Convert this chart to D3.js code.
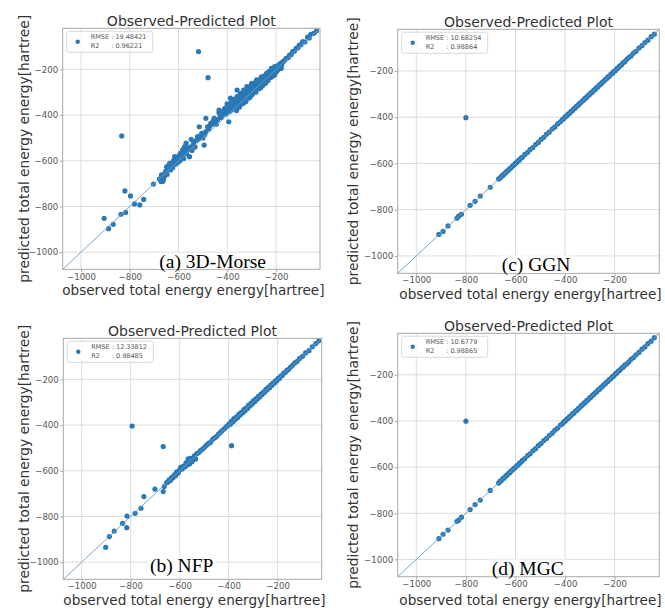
<!DOCTYPE html>
<html><head><meta charset="utf-8">
<script src="https://cdn.jsdelivr.net/npm/d3@7"></script>
<style>body{margin:0;background:#fff} svg{display:block} text{font-family:"DejaVu Sans",sans-serif}</style>
</head><body><svg id="c" width="665" height="608"></svg>
<script>
const tickValues = [-1000,-800,-600,-400,-200];
const axisDomain = [-1075,-20];
const titleText = "Observed-Predicted Plot";
const xLabelText = "observed total energy energy[hartree]";
const yLabelText = "predicted total energy energy[hartree]";
const panelNames = ["(a) 3D-Morse","(c) GGN","(b) NFP","(d) MGC"];
const rmseValues = ["19.48421","10.68254","12.33812","10.6779"];
const r2Values = ["0.96221","0.98864","0.98485","0.98865"];

const morseObs = [-518,-479,-833,-905,-887,-868,-836,-817,-820,-797,-781,-759,-743,-703,
-672,-667,-661,-656,-649,-645,-636,-630,-622,-616,-610,-602,-596,-592,-586,-582,-575,-570,-562,-555,-569,-548,-540,
-522,-515,-505,-495,-488,-481,-468,-488,-454,-445,-434,-425,-414,-434,-401,-394,-405,
-387,-387,-380,-374,-370,-367,-362,-360,-360,-356,-354,-350,-347,-344,-340,-338,-333,-330,-327,-324,-320,-318,-313,-310,-307,-304,-300,-298,-293,-290,-286,-283,-280,-277,-273,-270,-266,-263,-260,-257,-253,-250,-246,-243,-239,-236,-233,-230,-226,-223,-219,-215,-212,-209,-206,-203,-199,-195,-190,-186,-183,-179,-175,
-172,-165,-159,-150,-145,-138,-132,-125,-118,-110,-105,-98,-91,-82,-71,-64,-58,-45,-34,
-395,-392,-385,-383,-378,-376,-372,-368,-365,-363,-358,-352,-349,-346,-342,-336,-335,-331,-328,-325,-322,-316,-315,-311,-308,-305,-302,-297,-295,-291,-288,-284,-281,-278,-275,-271,-268,-264,-261,-258,-255,-251,-248,-244,-241,-237,-234,-231,-228,-225,-221,-217,-214,-210,-207,-204,-200,-197,-193,-188,-184,-181,-177,
-678,-670,-664,-658,-652,-647,-641,-638,-633,-627,-624,-619,-613,-607,-604,-599,-594,-589,-584,-579,-573,-567,-560,-553,-545,-538,-532,-527,
-518,-510,-500,-492,-476,-472,-462,-458,-449,-440,-430,-420,-417,-410,-398];
const morsePred = [-122,-236,-491,-852,-897,-878,-834,-826,-732,-754,-789,-793,-769,-702,
-691,-667,-680,-655,-626,-640,-611,-625,-604,-582,-600,-594,-585,-567,-575,-550,-538,-560,-545,-582,-523,-506,-530,
-494,-451,-480,-531,-472,-451,-436,-414,-414,-440,-389,-410,-378,-378,-351,-429,-395,
-363,-326,-370,-334,-350,-363,-380,-319,-290,-340,-348,-365,-305,-325,-334,-350,-290,-315,-319,-340,-275,-300,-312,-325,-283,-295,-261,-310,-290,-275,-268,-300,-246,-285,-275,-258,-254,-280,-232,-265,-261,-240,-239,-255,-217,-245,-232,-222,-210,-235,-195,-220,-210,-200,-188,-215,-195,-205,-185,-181,-196,-195,-170,
-166,-160,-151,-148,-137,-135,-122,-120,-108,-105,-93,-92,-78,-80,-59,-62,-46,-42,-31,
-372,-385,-345,-378,-355,-340,-365,-330,-345,-372,-330,-318,-355,-335,-312,-325,-300,-345,-305,-290,-330,-290,-320,-300,-275,-318,-285,-270,-300,-265,-290,-255,-280,-262,-250,-285,-245,-268,-250,-238,-270,-250,-228,-262,-235,-225,-250,-212,-238,-222,-205,-232,-200,-215,-225,-198,-210,-185,-200,-192,-175,-188,-180,
-680,-662,-690,-668,-645,-660,-628,-615,-640,-612,-630,-598,-615,-590,-608,-578,-600,-582,-560,-590,-555,-570,-550,-540,-555,-520,-540,-510,
-505,-490,-500,-485,-460,-448,-440,-425,-430,-420,-400,-398,-390,-370,-380];

const nfpObs = [-794,-667,-388,-902,-887,-867,-833,-816,-815,-782,-758,-746,-701,-667,-663,-653,
-648,-643,-638,-633,-628,-622,-617,-612,-606,-600,-596,-590,-585,-579,-574,-570,-565,-560,-555,-550,-545,-540,-535,-530,
-522,-515,-506,-498,-490,-482,-474,-466,-458,-450,-442,-434,-426,-418,-410,
-404,-398,-393,-388,-383,-378,-373,-368,-363,-358,-353,-348,-343,-338,-333,-328,-323,-318,-313,-308,-303,-298,-293,-288,-283,-278,-273,-268,-263,-258,-253,-248,-243,-238,-233,-228,-223,-218,-213,-208,-203,-198,-193,-187,-181,-175,-169,-162,-156,
-148,-139,-130,-120,-110,-98,-86,-72,-58,-44,-32];
const nfpPred = [-404,-494,-490,-935,-888,-864,-830,-849,-798,-786,-764,-713,-680,-691,-669,-652,
-650,-640,-642,-630,-632,-618,-622,-605,-610,-596,-585,-592,-580,-583,-565,-575,-548,-570,-545,-560,-552,-535,-548,-525,
-520,-512,-505,-496,-488,-480,-475,-463,-456,-450,-440,-432,-424,-416,-408,
-402,-395,-396,-383,-386,-372,-376,-364,-367,-352,-356,-344,-347,-332,-337,-325,-327,-312,-316,-304,-307,-293,-297,-284,-286,-274,-277,-264,-266,-255,-256,-244,-246,-235,-236,-225,-226,-215,-216,-205,-206,-195,-196,-185,-183,-172,-170,-160,-157,
-147,-138,-128,-121,-108,-99,-84,-74,-57,-43,-31];

const diagObs = [-909,-892,-872,-836,-829,-818,-783,-763,-742,-702,
-668,-663,-657,-651,-646,-640,-635,-629,-623,-618,-612,-606,-601,-595,-589,-584,-578,-572,
-562,-551,-541,-530,-519,-508,-497,-486,-475,-464,-452,-441,-430,-419,
-411,-405,-399,-393,-388,-382,-376,-370,-365,-359,-353,-347,-342,-336,-330,-324,-319,-313,-307,-301,-296,-290,-284,-278,-273,-267,-261,-255,-250,-244,-238,-232,-227,-221,-215,-209,-204,-198,-192,-186,-180,-173,-166,-159,-151,
-143,-134,-124,-114,-102,-90,-78,-66,-53,-40,-800];
const ggnPred = [-907,-894,-870,-837,-828,-820,-781,-764,-741,-703,
-667,-664,-656,-652,-645,-641,-634,-630,-622,-619,-611,-607,-600,-596,-588,-585,-577,-573,
-561,-552,-540,-531,-518,-509,-496,-487,-474,-465,-451,-442,-429,-420,
-410,-406,-398,-394,-387,-383,-375,-371,-364,-360,-352,-348,-341,-337,-329,-325,-318,-314,-306,-302,-295,-291,-283,-279,-272,-268,-260,-256,-249,-245,-237,-233,-226,-222,-214,-210,-203,-199,-191,-187,-179,-174,-165,-160,-150,
-142,-135,-123,-115,-101,-91,-77,-67,-52,-41,-402];
const mgcPred = [-910,-891,-873,-835,-830,-817,-784,-762,-743,-701,
-669,-662,-658,-650,-647,-639,-636,-628,-624,-617,-613,-605,-602,-594,-590,-583,-579,-571,
-563,-550,-542,-529,-520,-507,-498,-485,-476,-463,-453,-440,-431,-418,
-412,-404,-400,-392,-389,-381,-377,-369,-366,-358,-354,-346,-343,-335,-331,-323,-320,-312,-308,-300,-297,-289,-285,-277,-274,-266,-262,-254,-251,-243,-239,-231,-228,-220,-216,-208,-205,-197,-193,-185,-181,-172,-167,-158,-152,
-144,-133,-125,-113,-103,-89,-79,-65,-54,-39,-401];

const panels = [
  {name:panelNames[0], obs:morseObs, pred:morsePred, rmse:rmseValues[0], r2:r2Values[0], box:[62.7,28.3,320,269.3], lab:[159.3,267.8], ylabX:28.5, xlabY:294.5, tpad:1.5},
  {name:panelNames[1], obs:diagObs, pred:ggnPred, rmse:rmseValues[1], r2:r2Values[1], box:[397.7,29.3,659.3,273.3], lab:[501.7,270.5], ylabX:358, xlabY:298.5, tpad:0.8},
  {name:panelNames[2], obs:nfpObs, pred:nfpPred, rmse:rmseValues[2], r2:r2Values[2], box:[63.3,338.3,321.7,579.3], lab:[150,572], ylabX:28.5, xlabY:605, tpad:0.8},
  {name:panelNames[3], obs:diagObs, pred:mgcPred, rmse:rmseValues[3], r2:r2Values[3], box:[397.7,333.3,659.3,576.7], lab:[491.7,574.5], ylabX:358, xlabY:605, tpad:0.8}
];

const svg = d3.select("#c");
const dotColor = "#2a79b6";

panels.forEach((p,i) => {
  const [l,t,r,b] = p.box;
  const x = d3.scaleLinear().domain(axisDomain).range([l,r]);
  const y = d3.scaleLinear().domain(axisDomain).range([b,t]);
  const g = svg.append("g");
  const clipId = "clip"+i;
  svg.append("clipPath").attr("id",clipId).append("rect").attr("x",l).attr("y",t).attr("width",r-l).attr("height",b-t);

  g.append("g").selectAll("line").data(tickValues).join("line")
    .attr("x1",d=>x(d)).attr("x2",d=>x(d)).attr("y1",t).attr("y2",b)
    .attr("stroke","#dcdcdc").attr("stroke-width",1);
  g.append("g").selectAll("line").data(tickValues).join("line")
    .attr("y1",d=>y(d)).attr("y2",d=>y(d)).attr("x1",l).attr("x2",r)
    .attr("stroke","#dcdcdc").attr("stroke-width",1);

  const pts = d3.zip(p.obs, p.pred);
  g.append("g").attr("clip-path",`url(#${clipId})`).selectAll("circle").data(pts).join("circle")
    .attr("cx",d=>x(d[0])).attr("cy",d=>y(d[1])).attr("r",2.6)
    .attr("fill",dotColor);

  g.append("line").attr("x1",x(axisDomain[0])).attr("y1",y(axisDomain[0]))
    .attr("x2",x(axisDomain[1])).attr("y2",y(axisDomain[1]))
    .attr("stroke","#6d9fc6").attr("stroke-width",1).attr("opacity",0.9);

  g.append("rect").attr("x",l).attr("y",t).attr("width",r-l).attr("height",b-t)
    .attr("fill","none").attr("stroke","#a8a8a8").attr("stroke-width",1);

  const fmt = d3.format("d");
  const xa = g.append("g").attr("transform",`translate(0,${b})`)
    .call(d3.axisBottom(x).tickValues(tickValues).tickSize(3).tickPadding(p.tpad).tickFormat(fmt));
  const ya = g.append("g").attr("transform",`translate(${l},0)`)
    .call(d3.axisLeft(y).tickValues(tickValues).tickSize(3).tickPadding(1.5).tickFormat(fmt));
  [xa,ya].forEach(a=>{
    a.select(".domain").remove();
    a.selectAll(".tick line").attr("stroke","#a8a8a8");
    a.selectAll(".tick text").attr("fill","#555").style("font-size","8.6px").style("font-family","DejaVu Sans");
  });

  g.append("text").attr("x",(l+r)/2).attr("y",t-2.5).attr("text-anchor","middle")
    .attr("fill","#333").style("font-size","14px").text(titleText);
  g.append("text").attr("x",(l+r)/2+2).attr("y",p.xlabY).attr("text-anchor","middle")
    .attr("fill","#333").style("font-size","13.6px").text(xLabelText);
  g.append("text").attr("transform",`translate(${p.ylabX},${(t+b)/2}) rotate(-90)`).attr("text-anchor","middle")
    .attr("fill","#333").style("font-size","13.8px").text(yLabelText);

  const lg = g.append("g").attr("transform",`translate(${l+4},${t+3})`);
  lg.append("rect").attr("width",86).attr("height",21).attr("rx",2)
    .attr("fill","#fff").attr("fill-opacity",0.8).attr("stroke","#d0d0d0").attr("stroke-width",0.8);
  lg.append("circle").attr("cx",11).attr("cy",10.5).attr("r",2.2).attr("fill",dotColor);
  const t1 = lg.append("text").attr("x",24).attr("y",8).attr("fill","#555").style("font-size","6.5px");
  t1.append("tspan").text("RMSE ");
  t1.append("tspan").text(": "+p.rmse);
  const rmsePrefix = t1.select("tspan").node().getComputedTextLength();
  lg.append("text").attr("x",24).attr("y",17).attr("fill","#555").style("font-size","6.5px").text("R2");
  lg.append("text").attr("x",24+rmsePrefix).attr("y",17).attr("fill","#555").style("font-size","6.5px").text(": "+p.r2);

  const lt = g.append("text").attr("x",p.lab[0]).attr("y",p.lab[1])
    .attr("fill","#000").style("font-family","'Liberation Serif',serif").style("font-size","19.5px").text(p.name);
  const bb = lt.node().getBBox();
  g.insert("rect", () => lt.node()).attr("x",bb.x-2).attr("y",bb.y+2).attr("width",bb.width+4).attr("height",Math.min(b-0.5,bb.y+bb.height)-(bb.y+2))
    .attr("fill","#fff");
});
</script></body></html>
